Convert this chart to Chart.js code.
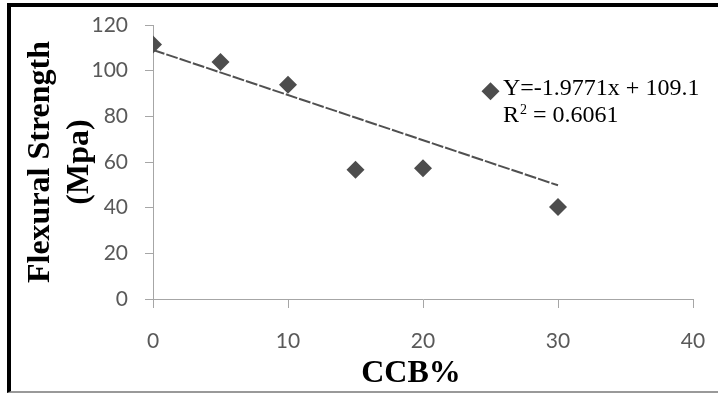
<!DOCTYPE html>
<html>
<head>
<meta charset="utf-8">
<script src="https://cdn.jsdelivr.net/npm/chart.js@4.4.1/dist/chart.umd.min.js"></script>
<style>
  html, body { margin: 0; padding: 0; background: #fff; }
  #frame {
    position: absolute; left: 7px; top: 3px; width: 707px; height: 384px;
    border-top: 4px solid #000; border-left: 4px solid #000; border-bottom: 2px solid #999;
  }
  #wrap { position: absolute; left: 0; top: 0; width: 718px; height: 394px; }
</style>
</head>
<body>
<div id="frame"></div>
<div id="wrap"><canvas id="chart" width="718" height="394"></canvas></div>
<script>
// CCB replacement (%) vs flexural strength
const ccb = [0, 5, 10, 15, 20, 25, 30]
const strength = [111.5, 103.8, 93.8, 56.6, 57.3, 91, 40.3]

// linear trendline shown on the chart
const slope = -1.9771
const intercept = 109.1
const trendX = [0, 30]

const xTicks = [0, 10, 20, 30, 40]
const yTicks = [0, 20, 40, 60, 80, 100, 120]

const axisGray = '#a6a6a6'
const labelGray = '#595959'
const markGray = '#4d4d4d'

const equationLabel = {
  id: 'equationLabel',
  afterDraw(chart) {
    const { ctx, chartArea } = chart
    const x = chartArea.left + 350
    const y = chartArea.top + 70
    ctx.save()
    ctx.fillStyle = '#000'
    ctx.textBaseline = 'alphabetic'
    ctx.textAlign = 'left'
    ctx.font = '24px "Liberation Serif", "Times New Roman", serif'
    ctx.fillText('Y=-1.9771x + 109.1', x, y)
    ctx.fillText('R', x, y + 27)
    const rw = ctx.measureText('R').width
    ctx.font = '14px "Liberation Serif", "Times New Roman", serif'
    ctx.fillText('2', x + rw + 1, y + 19)
    const sw = ctx.measureText('2').width
    ctx.font = '24px "Liberation Serif", "Times New Roman", serif'
    ctx.fillText(' = 0.6061', x + rw + sw + 1, y + 27)
    ctx.restore()
  }
}

const config = {
  type: 'scatter',
  data: {
    datasets: [
      {
        data: ccb.map((x, i) => ({ x: x, y: strength[i] })),
        pointStyle: 'rectRot',
        pointRadius: 9,
        pointHoverRadius: 9,
        backgroundColor: markGray,
        borderColor: markGray,
        borderWidth: 0,
      },
      {
        type: 'line',
        data: trendX.map(x => ({ x: x, y: slope * x + intercept })),
        borderColor: '#505050',
        borderWidth: 2,
        borderDash: [12, 2],
        pointRadius: 0,
        fill: false,
      }
    ]
  },
  options: {
    responsive: false,
    animation: false,
    layout: { padding: { left: 0, top: 25, right: 25, bottom: 0 } },
    scales: {
      x: {
        type: 'linear',
        min: 0,
        max: 40,
        afterBuildTicks: (scale) => { scale.ticks = xTicks.map(v => ({ value: v })) },
        afterFit: (scale) => {
          scale.height = 95
          scale.paddingLeft = 0
          scale.paddingRight = 0
        },
        border: { display: true, color: axisGray, width: 1 },
        grid: { drawOnChartArea: false, drawTicks: true, tickLength: 9, color: axisGray },
        ticks: {
          padding: 21,
          color: labelGray,
          font: { family: 'Lato', size: 21 },
          maxRotation: 0,
        },
        title: {
          display: true,
          text: 'CCB%   ',
          color: '#000',
          font: { family: '"Liberation Serif", "Times New Roman", serif', size: 32, weight: 'bold', lineHeight: 1.2 },
          padding: { top: 0, bottom: 1 },
        },
      },
      y: {
        min: 0,
        max: 120,
        afterBuildTicks: (scale) => { scale.ticks = yTicks.map(v => ({ value: v })) },
        afterFit: (scale) => {
          scale.width = 153
          scale.paddingTop = 0
          scale.paddingBottom = 0
        },
        border: { display: true, color: axisGray, width: 1 },
        grid: { drawOnChartArea: false, drawTicks: true, tickLength: 8, color: axisGray },
        ticks: {
          padding: 17,
          color: labelGray,
          font: { family: 'Lato', size: 21 },
        },
        title: {
          display: true,
          text: ['Flexural Strength', '(Mpa)'],
          color: '#000',
          font: { family: '"Liberation Serif", "Times New Roman", serif', size: 32, weight: 'bold', lineHeight: 1.22 },
          padding: { top: 21, bottom: 0 },
        },
      },
    },
    plugins: {
      legend: { display: false },
      tooltip: { enabled: false },
    },
  },
  plugins: [equationLabel],
}

new Chart(document.getElementById('chart'), config)
</script>
</body>
</html>
